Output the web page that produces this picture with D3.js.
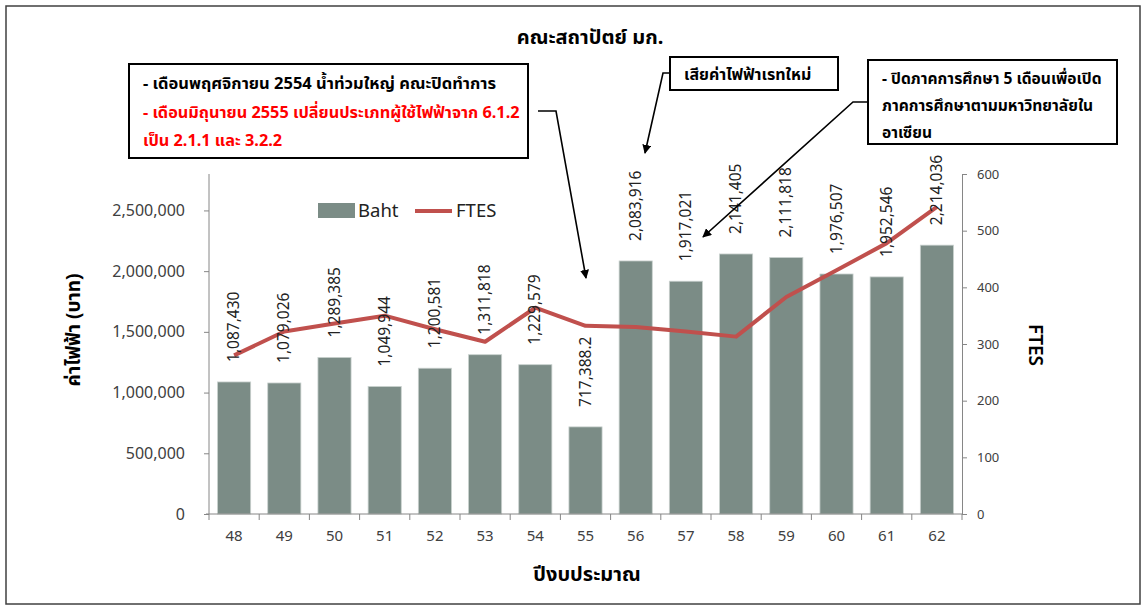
<!DOCTYPE html>
<html><head><meta charset="utf-8">
<script src="https://cdn.jsdelivr.net/npm/d3@7"></script>
<style>
body{margin:0;background:#fff;}
text{font-family:"Noto Sans","Noto Sans Thai",Tahoma,sans-serif;}
</style></head>
<body><svg id="c" width="1147" height="608"></svg>
<script>
const years = ["48","49","50","51","52","53","54","55","56","57","58","59","60","61","62"];
const baht = [1087430,1079026,1289385,1049944,1200581,1311818,1229579,717388.2,2083916,1917021,2141405,2111818,1976507,1952546,2214036];
const bahtLabels = ["1,087,430","1,079,026","1,289,385","1,049,944","1,200,581","1,311,818","1,229,579","717,388.2","2,083,916","1,917,021","2,141,405","2,111,818","1,976,507","1,952,546","2,214,036"];
const ftes = [280,322,336,350,326,304,364,332,330,322,313,383,430,478,542];
const leftTicks = [0,500000,1000000,1500000,2000000,2500000];
const rightTicks = [0,100,200,300,400,500,600];
const title = "คณะสถาปัตย์ มก.";
const yTitle = "ค่าไฟฟ้า (บาท)";
const y2Title = "FTES";
const xTitle = "ปีงบประมาณ";
const note1 = ["- เดือนพฤศจิกายน 2554 น้ำท่วมใหญ่ คณะปิดทำการ"];
const note1Red = ["- เดือนมิถุนายน 2555 เปลี่ยนประเภทผู้ใช้ไฟฟ้าจาก 6.1.2","เป็น 2.1.1 และ 3.2.2"];
const note2 = ["เสียค่าไฟฟ้าเรทใหม่"];
const note3 = ["- ปิดภาคการศึกษา 5 เดือนเพื่อเปิด","ภาคการศึกษาตามมหาวิทยาลัยใน","อาเซียน"];

const svg = d3.select("#c");
const L=209, R=962, T=174, B=514;
const axisCol="#868686", txtCol="#404040";

svg.append("rect").attr("x",6).attr("y",6).attr("width",1134).attr("height",598)
  .attr("fill","#fff").attr("stroke","#404040").attr("stroke-width",1.5);

const x = d3.scaleBand().domain(years).range([L,R]).paddingInner(0.34).paddingOuter(0.17);
const y = d3.scaleLinear().domain([0,2800000]).range([B,T]);
const y2 = d3.scaleLinear().domain([0,600]).range([B,T]);

// bars
svg.selectAll(".bar").data(baht).join("rect")
  .attr("x",(d,i)=>x(years[i])).attr("width",x.bandwidth())
  .attr("y",d=>y(d)).attr("height",d=>B-y(d))
  .attr("fill","#7b8c86").attr("stroke","#c9d1ce").attr("stroke-width",0.8);

// left axis
const ga = svg.append("g").attr("transform",`translate(${L},0)`)
  .call(d3.axisLeft(y).tickValues(leftTicks).tickSize(5).tickPadding(19).tickFormat(d3.format(",")));
ga.select(".domain").attr("d",`M0,${T}V${B}`);
// right axis
const gb = svg.append("g").attr("transform",`translate(${R},0)`)
  .call(d3.axisRight(y2).tickValues(rightTicks).tickSize(5).tickPadding(10));
// x axis
const gx = svg.append("g").attr("transform",`translate(0,${B})`)
  .call(d3.axisBottom(x).tickSize(0).tickPadding(16));
gx.select(".domain").attr("d",`M${L-3},0H${R}`);
const bstep = x.step();
const bounds = d3.range(years.length+1).map(i=>L+i*bstep);
gx.selectAll(".bt").data(bounds).join("line").attr("x1",d=>d).attr("x2",d=>d)
  .attr("y1",0).attr("y2",6).attr("stroke",axisCol);

[ga,gb,gx].forEach(g=>{
  g.selectAll(".domain").attr("stroke",axisCol);
  g.selectAll(".tick line").attr("stroke",axisCol);
  g.selectAll("text").attr("fill",txtCol).style("font-family","'Noto Sans',sans-serif");
});
ga.selectAll("text").attr("font-size",16);
gb.selectAll("text").attr("font-size",13);
gx.selectAll("text").attr("font-size",15);

// line
const line = d3.line().x((d,i)=>x(years[i])+x.bandwidth()/2).y(d=>y2(d));
svg.append("path").datum(ftes).attr("d",line).attr("fill","none")
  .attr("stroke","#c0504d").attr("stroke-width",4).attr("stroke-linejoin","round");

// data labels
svg.selectAll(".lbl").data(baht).join("text")
  .attr("transform",(d,i)=>`translate(${x(years[i])+x.bandwidth()/2+5},${y(d)-20}) rotate(-90)`)
  .attr("text-anchor","start").attr("font-size",15.5).attr("fill","#222")
  .text((d,i)=>bahtLabels[i]);

// legend
svg.append("rect").attr("x",318).attr("y",203).attr("width",37).attr("height",15).attr("fill","#7b8c86");
svg.append("text").attr("x",358).attr("y",217).attr("font-size",18.5).attr("fill","#222").text("Baht");
svg.append("line").attr("x1",415).attr("x2",452).attr("y1",211).attr("y2",211).attr("stroke","#c0504d").attr("stroke-width",4);
svg.append("text").attr("x",456).attr("y",217).attr("font-size",18.5).attr("fill","#222").text("FTES");

// titles
svg.append("text").attr("x",590).attr("y",44).attr("text-anchor","middle").attr("font-size",20).attr("font-weight","bold").attr("fill","#000").text(title);
svg.append("text").attr("transform","translate(80,330) rotate(-90)").attr("text-anchor","middle").attr("font-size",19).attr("font-weight","bold").attr("fill","#000").text(yTitle);
svg.append("text").attr("transform","translate(1029,345) rotate(90)").attr("text-anchor","middle").attr("font-size",19).attr("font-weight","600").attr("fill","#000").text(y2Title);
svg.append("text").attr("x",587).attr("y",581).attr("text-anchor","middle").attr("font-size",20).attr("font-weight","bold").attr("fill","#000").text(xTitle);

// annotation boxes
function box(x0,y0,w,h){svg.append("rect").attr("x",x0).attr("y",y0).attr("width",w).attr("height",h).attr("fill","#fff").attr("stroke","#000").attr("stroke-width",2);}
box(129,64,399,94);
box(670,57,168,33);
box(868,60,249,84);
function lines(arr,x0,y0,dy,col,fs){arr.forEach((t,i)=>svg.append("text").attr("x",x0).attr("y",y0+i*dy).attr("font-size",fs).attr("font-weight","bold").attr("fill",col).text(t));}
lines(note1,143,89,28,"#000",16.5);
lines(note1Red,143,118,28,"#ff0000",16.3);
lines(note2,684,80,27,"#000",16);
lines(note3,882,84,27,"#000",15.6);

// arrows
const defs = svg.append("defs");
defs.append("marker").attr("id","ah").attr("viewBox","0 0 10 10").attr("refX",9).attr("refY",5)
  .attr("markerWidth",9).attr("markerHeight",9).attr("markerUnits","userSpaceOnUse").attr("orient","auto")
  .append("path").attr("d","M0,0L10,5L0,10Z").attr("fill","#000");
function arrow(pts){svg.append("path").attr("d",d3.line()(pts)).attr("fill","none").attr("stroke","#000").attr("stroke-width",1.6).attr("marker-end","url(#ah)");}
arrow([[538,111],[556,111],[586,278]]);
arrow([[670,73],[663,73],[645,153]]);
arrow([[868,102],[853,102],[703,237]]);
</script></body></html>
